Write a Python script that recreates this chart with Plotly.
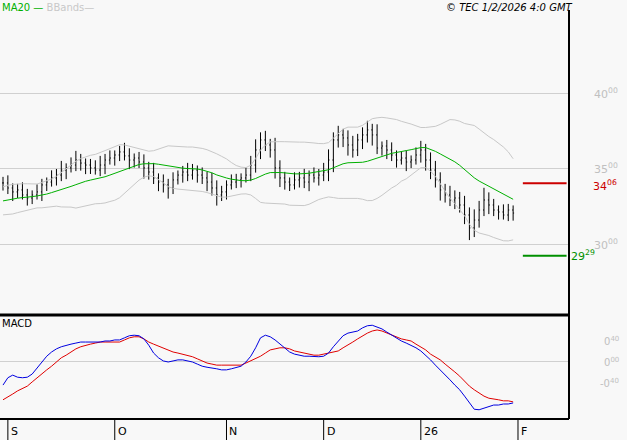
import plotly.graph_objects as go
import pandas as pd

# daily closes (index 0 = 29 Aug 2025 ... 105 = 30 Jan 2026)
closes = [34.08, 33.75, 33.49, 33.62, 33.29, 33.09, 33.29, 33.49, 33.95, 34.14,
          34.41, 34.60, 34.93, 35.07, 35.26, 35.59, 35.39, 35.26, 35.07, 34.93,
          35.26, 35.59, 35.72, 35.92, 36.12, 35.86, 35.59, 35.72, 35.46, 35.07,
          34.80, 34.41, 34.14, 33.95, 33.75, 34.28, 34.60, 34.80, 34.60, 34.93,
          34.60, 34.41, 34.14, 33.75, 33.29, 33.49, 33.95, 34.14, 34.28, 34.41,
          34.60, 35.26, 36.25, 36.91, 36.58, 36.25, 35.07, 34.41, 34.14, 33.95,
          34.28, 34.41, 34.14, 34.60, 34.41, 34.60, 34.80, 35.59, 36.91, 37.24,
          37.04, 36.58, 36.25, 36.91, 37.24, 37.57, 37.24, 36.38, 36.51, 36.25,
          35.92, 35.59, 35.72, 35.46, 35.59, 35.92, 36.25, 35.59, 34.93, 34.28,
          33.62, 33.29, 32.96, 33.09, 32.63, 31.97, 31.12, 31.64, 32.30, 32.96,
          32.63, 32.30, 32.17, 31.97, 32.30, 32.10]
spread_up = [0.4, 0.5, 0.3, 0.4, 0.5, 0.4, 0.3, 0.5, 0.4, 0.3,
             0.5, 0.4, 0.6, 0.3, 0.5, 0.6, 0.4, 0.3, 0.4, 0.5,
             0.6, 0.4, 0.5, 0.3, 0.4, 0.6, 0.5, 0.3, 0.4, 0.5,
             0.4, 0.6, 0.3, 0.5, 0.4, 0.5, 0.3, 0.4, 0.6, 0.4,
             0.3, 0.5, 0.4, 0.6, 0.5, 0.4, 0.3, 0.5, 0.4, 0.3,
             0.5, 0.6, 0.7, 0.5, 0.6, 0.4, 0.8, 0.5, 0.4, 0.3,
             0.5, 0.4, 0.6, 0.3, 0.5, 0.4, 0.6, 0.7, 0.5, 0.6,
             0.4, 0.5, 0.6, 0.4, 0.5, 0.6, 0.4, 0.7, 0.3, 0.4,
             0.5, 0.3, 0.4, 0.5, 0.3, 0.5, 0.6, 0.4, 0.5, 0.6,
             0.5, 0.4, 0.6, 0.5, 0.4, 0.6, 0.5, 0.7, 0.6, 0.8,
             0.5, 0.4, 0.3, 0.5, 0.4, 0.3]
spread_dn = [0.5, 0.4, 0.6, 0.4, 0.3, 0.5, 0.4, 0.3, 0.6, 0.4,
             0.3, 0.5, 0.4, 0.6, 0.3, 0.4, 0.5, 0.6, 0.4, 0.3,
             0.4, 0.6, 0.3, 0.5, 0.4, 0.3, 0.6, 0.5, 0.4, 0.7,
             0.5, 0.4, 0.6, 0.5, 0.7, 0.4, 0.3, 0.5, 0.4, 0.3,
             0.5, 0.4, 0.6, 0.5, 0.7, 0.4, 0.5, 0.3, 0.4, 0.5,
             0.3, 0.4, 0.5, 0.6, 0.4, 0.5, 0.7, 0.6, 0.5, 0.4,
             0.3, 0.5, 0.4, 0.6, 0.3, 0.5, 0.4, 0.6, 0.8, 0.5,
             0.6, 0.7, 0.5, 0.4, 0.6, 0.5, 0.7, 0.4, 0.5, 0.6,
             0.4, 0.5, 0.3, 0.6, 0.4, 0.3, 0.5, 0.7, 0.6, 0.5,
             0.7, 0.5, 0.4, 0.6, 0.5, 0.6, 0.8, 0.6, 0.5, 0.4,
             0.6, 0.4, 0.5, 0.3, 0.4, 0.5]
# closes before the visible window, used only for the moving average
warmup = [32.4, 32.6, 32.3, 32.5, 32.7, 32.4, 32.6, 32.9, 32.7, 32.5,
          32.8, 33.0, 32.8, 33.1, 33.3, 33.0, 33.2, 33.5, 33.6]

macd = [-0.44, -0.30, -0.25, -0.29, -0.30, -0.29, -0.23, -0.11, 0.00, 0.11,
        0.19, 0.25, 0.29, 0.32, 0.34, 0.36, 0.38, 0.38, 0.38, 0.38,
        0.38, 0.40, 0.40, 0.42, 0.42, 0.46, 0.50, 0.51, 0.50, 0.44,
        0.32, 0.17, 0.08, 0.02, 0.00, 0.02, 0.04, 0.04, 0.02, 0.00,
        -0.04, -0.08, -0.10, -0.11, -0.13, -0.15, -0.15, -0.13, -0.11, -0.08,
        0.00, 0.11, 0.27, 0.46, 0.51, 0.48, 0.42, 0.34, 0.27, 0.19,
        0.15, 0.13, 0.11, 0.11, 0.10, 0.10, 0.11, 0.17, 0.29, 0.40,
        0.50, 0.55, 0.57, 0.59, 0.65, 0.69, 0.70, 0.67, 0.63, 0.57,
        0.51, 0.46, 0.40, 0.36, 0.32, 0.27, 0.21, 0.13, 0.04, -0.06,
        -0.15, -0.25, -0.34, -0.44, -0.53, -0.65, -0.78, -0.90, -0.91, -0.88,
        -0.84, -0.82, -0.82, -0.80, -0.80, -0.78]
signal = [-0.72, -0.67, -0.61, -0.55, -0.51, -0.46, -0.38, -0.30, -0.23, -0.15,
          -0.08, 0.00, 0.08, 0.13, 0.19, 0.25, 0.29, 0.32, 0.34, 0.36,
          0.38, 0.38, 0.38, 0.38, 0.38, 0.42, 0.46, 0.48, 0.48, 0.44,
          0.38, 0.34, 0.30, 0.27, 0.23, 0.19, 0.17, 0.15, 0.13, 0.10,
          0.06, 0.02, -0.02, -0.04, -0.06, -0.06, -0.06, -0.06, -0.06, -0.06,
          -0.02, 0.02, 0.06, 0.11, 0.17, 0.23, 0.25, 0.27, 0.27, 0.25,
          0.21, 0.19, 0.17, 0.15, 0.13, 0.13, 0.15, 0.17, 0.19, 0.21,
          0.27, 0.32, 0.38, 0.44, 0.50, 0.55, 0.59, 0.61, 0.59, 0.55,
          0.51, 0.48, 0.44, 0.42, 0.40, 0.34, 0.29, 0.23, 0.15, 0.10,
          0.04, -0.04, -0.11, -0.19, -0.27, -0.36, -0.46, -0.53, -0.59, -0.65,
          -0.69, -0.70, -0.72, -0.74, -0.74, -0.76]

month_pos = [1, 23, 46, 66, 86, 106]
month_labels = ["S", "O", "N", "D", "26", "F"]
resistance = 34.06
support = 29.29

x = list(range(len(closes)))
opens = [closes[0]] + closes[:-1]
highs = [max(o, c) + u for o, c, u in zip(opens, closes, spread_up)]
lows = [min(o, c) - d for o, c, d in zip(opens, closes, spread_dn)]

s = pd.Series(warmup + closes)
ma = s.rolling(20).mean()[len(warmup):].tolist()
sd = s.rolling(20).std()[len(warmup):].tolist()
upper = [m + 2 * v for m, v in zip(ma, sd)]
lower = [m - 2 * v for m, v in zip(ma, sd)]

fig = go.Figure()
gray = "#c8c8c8"
fig.add_trace(go.Scatter(x=x, y=upper, mode="lines", line=dict(color=gray, width=1)))
fig.add_trace(go.Scatter(x=x, y=lower, mode="lines", line=dict(color=gray, width=1)))
fig.add_trace(go.Scatter(x=x, y=ma, mode="lines", line=dict(color="#00b000", width=1)))
fig.add_trace(go.Ohlc(x=x, open=opens, high=highs, low=lows, close=closes, tickwidth=0.2,
                      increasing_line=dict(color="black", width=1),
                      decreasing_line=dict(color="black", width=1)))
fig.add_trace(go.Scatter(x=[107, 116], y=[resistance] * 2, mode="lines",
                         line=dict(color="#cc0000", width=2)))
fig.add_trace(go.Scatter(x=[107, 116], y=[support] * 2, mode="lines",
                         line=dict(color="#009000", width=2)))
fig.add_trace(go.Scatter(x=x, y=signal, mode="lines", line=dict(color="#e00000", width=1), yaxis="y2"))
fig.add_trace(go.Scatter(x=x, y=macd, mode="lines", line=dict(color="#0000e0", width=1), yaxis="y2"))

fig.update_layout(
    width=627, height=440, margin=dict(l=0, r=0, t=0, b=0),
    paper_bgcolor="#f8f8f8", plot_bgcolor="#f8f8f8", showlegend=False,
    font=dict(family="DejaVu Sans", size=11),
    xaxis=dict(domain=[0, 569 / 627], range=[-0.62, 116.5], showgrid=False, zeroline=False,
               rangeslider=dict(visible=False), showticklabels=False, anchor="y2"),
    yaxis=dict(domain=[125 / 440, 1], range=[25.39, 46.12], showticklabels=False,
               tickvals=[30, 35, 40], gridcolor="#d0d0d0", zeroline=False),
    yaxis2=dict(domain=[21 / 440, 124 / 440], range=[-1.086, 0.876], showticklabels=False,
                tickvals=[0], gridcolor="#d0d0d0", zeroline=False),
)

shapes = [
    dict(type="line", xref="paper", yref="paper", x0=569 / 627, x1=569 / 627, y0=21 / 440, y1=430 / 440,
         line=dict(color="black", width=2)),
    dict(type="line", xref="paper", yref="paper", x0=0, x1=569 / 627, y0=125 / 440, y1=125 / 440,
         line=dict(color="black", width=3)),
    dict(type="line", xref="paper", yref="paper", x0=0, x1=569 / 627, y0=21 / 440, y1=21 / 440,
         line=dict(color="black", width=2)),
]
for p, lab in zip(month_pos, month_labels):
    shapes.append(dict(type="line", xref="x", yref="paper", x0=p, x1=p, y0=0, y1=21 / 440,
                       line=dict(color="black", width=1)))
    fig.add_annotation(x=p, xref="x", y=0, yref="paper", text=lab, showarrow=False,
                       xanchor="left", yanchor="bottom", xshift=1, font=dict(size=11, color="black"))
fig.update_layout(shapes=shapes)

for v, txt in [(40, "40<sup>00</sup>"), (35, "35<sup>00</sup>"), (30, "30<sup>00</sup>")]:
    fig.add_annotation(x=592 / 627, xref="paper", y=v, yref="y", text=txt, showarrow=False,
                       xanchor="left", font=dict(size=11, color="#c0c0c0"))
for v, txt in [(0.4, "0<sup>40</sup>"), (0.0, "0<sup>00</sup>"), (-0.4, "-0<sup>40</sup>")]:
    fig.add_annotation(x=621 / 627, xref="paper", y=v, yref="y2", text=txt, showarrow=False,
                       xanchor="right", font=dict(size=10, color="#c0c0c0"))
fig.add_annotation(x=591 / 627, xref="paper", y=resistance, yref="y", text="34<sup>06</sup>", showarrow=False,
                   xanchor="left", yshift=-2, font=dict(size=11, color="#cc0000"))
fig.add_annotation(x=569 / 627, xref="paper", y=support, yref="y", text="29<sup>29</sup>", showarrow=False,
                   xanchor="left", font=dict(size=11, color="#009000"))
fig.add_annotation(x=0, xref="paper", y=1, yref="paper", showarrow=False, xanchor="left", yanchor="top",
                   text="<span style='color:#00b000'>MA20 —</span> <span style='color:#c8c8c8'>BBands—</span>",
                   font=dict(size=10))
fig.add_annotation(x=575 / 627, xref="paper", y=1, yref="paper", showarrow=False, xanchor="right",
                   yanchor="top", text="<i>© TEC 1/2/2026 4:0 GMT</i>", font=dict(size=10, color="black"))
fig.add_annotation(x=0, xref="paper", y=124 / 440, yref="paper", showarrow=False, xanchor="left",
                   yanchor="top", text="MACD", font=dict(size=10, color="black"))

fig.write_html("out.html", config={"displayModeBar": False},
               post_script="document.body.style.margin='0px';")
